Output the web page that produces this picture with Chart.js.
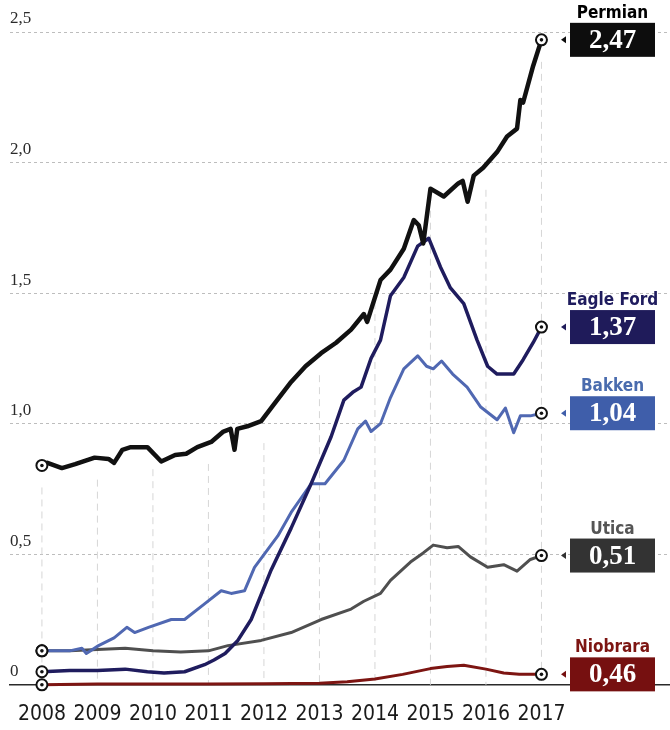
<!DOCTYPE html>
<html lang="en">
<head>
<meta charset="utf-8">
<title>Shale oil output</title>
<style>
body { margin: 0; background: #fff; }
.holder { width: 670px; height: 730px; position: relative; }
</style>
</head>
<body>
<div class="holder"><canvas id="chart"></canvas></div>

<script src="https://cdn.jsdelivr.net/npm/chart.js"></script>
<script>
// years shown on the x axis
const yearTicks = [2008, 2009, 2010, 2011, 2012, 2013, 2014, 2015, 2016, 2017];
const valueTicks = [0, 0.5, 1, 1.5, 2, 2.5];

// series (year, value)
const permianYears = [2008.0, 2008.1, 2008.36, 2008.6, 2008.95, 2009.2, 2009.3, 2009.45, 2009.6, 2009.9, 2010.15, 2010.4, 2010.6, 2010.8, 2011.05, 2011.27, 2011.4, 2011.47, 2011.52, 2011.7, 2011.95, 2012.2, 2012.49, 2012.75, 2013.03, 2013.3, 2013.57, 2013.8, 2013.86, 2014.1, 2014.28, 2014.52, 2014.7, 2014.79, 2014.87, 2015.0, 2015.24, 2015.5, 2015.58, 2015.67, 2015.78, 2015.95, 2016.2, 2016.38, 2016.56, 2016.62, 2016.67, 2016.85, 2017.0];
const permianValues = [0.84, 0.85, 0.83, 0.845, 0.87, 0.865, 0.85, 0.9, 0.91, 0.91, 0.855, 0.88, 0.885, 0.91, 0.93, 0.97, 0.98, 0.9, 0.98, 0.99, 1.01, 1.08, 1.16, 1.22, 1.27, 1.31, 1.36, 1.42, 1.39, 1.55, 1.59, 1.67, 1.78, 1.76, 1.69, 1.9, 1.87, 1.92, 1.93, 1.85, 1.95, 1.98, 2.04, 2.1, 2.13, 2.24, 2.23, 2.37, 2.47];

const eagleYears = [2008.0, 2008.5, 2009.0, 2009.5, 2009.9, 2010.2, 2010.57, 2010.93, 2011.1, 2011.3, 2011.53, 2011.77, 2012.13, 2012.49, 2012.85, 2013.21, 2013.44, 2013.6, 2013.75, 2013.93, 2014.1, 2014.28, 2014.52, 2014.77, 2014.97, 2015.18, 2015.36, 2015.6, 2015.84, 2016.03, 2016.2, 2016.5, 2016.67, 2016.85, 2017.0];
const eagleValues = [0.05, 0.055, 0.055, 0.06, 0.05, 0.045, 0.05, 0.077, 0.095, 0.12, 0.17, 0.25, 0.44, 0.6, 0.77, 0.95, 1.09, 1.12, 1.14, 1.25, 1.32, 1.49, 1.56, 1.68, 1.71, 1.6, 1.52, 1.46, 1.32, 1.22, 1.19, 1.19, 1.245, 1.31, 1.37];

const bakkenYears = [2008.0, 2008.5, 2008.72, 2008.8, 2009.02, 2009.3, 2009.53, 2009.67, 2009.92, 2010.33, 2010.57, 2010.93, 2011.23, 2011.41, 2011.65, 2011.83, 2012.25, 2012.49, 2012.85, 2013.1, 2013.44, 2013.69, 2013.83, 2013.93, 2014.1, 2014.28, 2014.52, 2014.77, 2014.93, 2015.05, 2015.2, 2015.4, 2015.66, 2015.9, 2016.2, 2016.35, 2016.5, 2016.62, 2016.8, 2017.0];
const bakkenValues = [0.13, 0.13, 0.14, 0.12, 0.15, 0.18, 0.22, 0.2, 0.22, 0.25, 0.25, 0.31, 0.36, 0.35, 0.36, 0.45, 0.57, 0.66, 0.77, 0.77, 0.86, 0.98, 1.01, 0.97, 1.0, 1.1, 1.21, 1.26, 1.22, 1.21, 1.24, 1.19, 1.14, 1.065, 1.015, 1.06, 0.965, 1.03, 1.03, 1.04];

const uticaYears = [2008.0, 2008.5, 2009.0, 2009.5, 2010.0, 2010.5, 2011.0, 2011.35, 2011.95, 2012.49, 2013.03, 2013.57, 2013.8, 2014.1, 2014.28, 2014.64, 2014.87, 2015.05, 2015.3, 2015.5, 2015.72, 2016.03, 2016.32, 2016.56, 2016.8, 2017.0];
const uticaValues = [0.13, 0.13, 0.135, 0.14, 0.13, 0.126, 0.13, 0.15, 0.17, 0.2, 0.25, 0.29, 0.32, 0.35, 0.4, 0.47, 0.505, 0.535, 0.525, 0.53, 0.49, 0.45, 0.46, 0.435, 0.48, 0.495];

const niobraraYears = [2008.0, 2009.0, 2010.0, 2011.0, 2012.0, 2013.0, 2013.5, 2014.0, 2014.5, 2015.0, 2015.3, 2015.6, 2016.0, 2016.32, 2016.6, 2017.0];
const niobraraValues = [0.0, 0.003, 0.003, 0.003, 0.004, 0.006, 0.012, 0.022, 0.04, 0.062, 0.07, 0.075, 0.06, 0.045, 0.04, 0.04];

// labels on the right
const names = ["Permian", "Eagle Ford", "Bakken", "Utica", "Niobrara"];
const boxValues = ["2,47", "1,37", "1,04", "0,51", "0,46"];
const lineColors = ["#111111", "#1f1c5e", "#5068b2", "#4f4f4f", "#7d1512"];
const boxColors = ["#0d0d0d", "#1f1b5a", "#3f5eaa", "#333333", "#761010"];
const nameColors = ["#000000", "#1f1c5e", "#4a6cae", "#555555", "#7d1512"];
const widths = [4.5, 3.5, 3, 3, 3];

function pts(xs, ys) { return xs.map((x, i) => ({x: x, y: ys[i]})); }
const seriesData = [
  pts(permianYears, permianValues),
  pts(eagleYears, eagleValues),
  pts(bakkenYears, bakkenValues),
  pts(uticaYears, uticaValues),
  pts(niobraraYears, niobraraValues)
];

const narrow = "'Liberation Sans Narrow', 'DejaVu Sans Condensed', Lato, sans-serif";
const serif = "'Liberation Serif', 'DejaVu Serif', serif";

// vertical year lines, stopping under the Permian line
const yearLines = {
  id: 'yearLines',
  beforeDatasetsDraw(chart) {
    const ctx = chart.ctx, xs = chart.scales.x, ys = chart.scales.y;
    ctx.save();
    ctx.strokeStyle = '#d6d6d6';
    ctx.lineWidth = 1;
    ctx.setLineDash([7, 5]);
    yearTicks.forEach(yr => {
      let best = 0;
      permianYears.forEach((p, i) => { if (Math.abs(p - yr) < Math.abs(permianYears[best] - yr)) best = i; });
      const px = xs.getPixelForValue(yr);
      const top = ys.getPixelForValue(permianValues[best]) + 22;
      ctx.beginPath();
      ctx.moveTo(px, top);
      ctx.lineTo(px, ys.bottom);
      ctx.stroke();
    });
    ctx.restore();
  }
};

// ring markers at both ends and the value boxes
const endLabels = {
  id: 'endLabels',
  afterDatasetsDraw(chart) {
    const ctx = chart.ctx;
    ctx.save();
    chart.data.datasets.forEach((ds, i) => {
      const meta = chart.getDatasetMeta(i);
      const first = meta.data[0], last = meta.data[meta.data.length - 1];
      [first, last].forEach(p => {
        ctx.beginPath();
        ctx.arc(p.x, p.y, 5.5, 0, Math.PI * 2);
        ctx.fillStyle = '#fff';
        ctx.fill();
        ctx.lineWidth = 2;
        ctx.strokeStyle = '#111';
        ctx.stroke();
        ctx.beginPath();
        ctx.arc(p.x, p.y, 1.8, 0, Math.PI * 2);
        ctx.fillStyle = '#111';
        ctx.fill();
      });

      const cy = last.y;
      const bx = 570, bw = 85, bh = 34;
      const by = cy - bh / 2;
      ctx.fillStyle = boxColors[i];
      ctx.fillRect(bx, by, bw, bh);
      ctx.beginPath();
      ctx.moveTo(bx - 9, cy);
      ctx.lineTo(bx - 4, cy - 3.5);
      ctx.lineTo(bx - 4, cy + 3.5);
      ctx.closePath();
      ctx.fill();

      ctx.fillStyle = '#fff';
      ctx.font = 'bold 27px ' + serif;
      ctx.textAlign = 'center';
      ctx.textBaseline = 'middle';
      ctx.fillText(boxValues[i], bx + bw / 2, cy + 1);

      ctx.fillStyle = nameColors[i];
      ctx.font = 'bold 17px ' + narrow;
      ctx.textBaseline = 'alphabetic';
      ctx.fillText(names[i], bx + bw / 2, by - 5);
    });
    ctx.restore();
  }
};

const pxPerYear = 55.7;
const ctx = document.getElementById('chart').getContext('2d');
let mychart = new Chart(ctx, {
  type: 'line',
  data: {
    datasets: names.map((n, i) => ({
      label: n,
      data: seriesData[i],
      borderColor: lineColors[i],
      borderWidth: widths[i],
      pointRadius: 0,
      tension: 0,
      borderJoinStyle: 'round',
      borderCapStyle: 'round',
      clip: false
    }))
  },
  options: {
    responsive: true,
    maintainAspectRatio: false,
    animation: false,
    layout: { padding: { top: 32, left: 8, right: 0, bottom: -15 } },
    plugins: { legend: { display: false }, tooltip: { enabled: false } },
    scales: {
      x: {
        type: 'linear',
        min: 2008 - 32 / pxPerYear,
        max: 2017 + 129 / pxPerYear,
        afterBuildTicks: s => { s.ticks = yearTicks.map(v => ({value: v})); },
        grid: { display: false, drawTicks: false },
        border: { display: true, color: '#2a2a2a', width: 1.5 },
        ticks: {
          padding: 17.5,
          color: '#1a1a1a',
          font: { family: narrow, size: 21 },
          maxRotation: 0,
          autoSkip: false,
          callback: v => String(v)
        }
      },
      y: {
        min: 0,
        max: 2.5,
        afterBuildTicks: s => { s.ticks = valueTicks.map(v => ({value: v})); },
        grid: { color: '#bdbdbd', lineWidth: 1, drawTicks: false },
        border: { display: false, dash: [3, 3] },
        ticks: {
          mirror: true,
          padding: 0,
          labelOffset: -13,
          color: '#2a2a2a',
          font: { family: serif, size: 17 },
          callback: v => v === 0 ? '0' : v.toFixed(1).replace('.', ',')
        }
      }
    }
  },
  plugins: [yearLines, endLabels]
});
</script>
</body>
</html>
